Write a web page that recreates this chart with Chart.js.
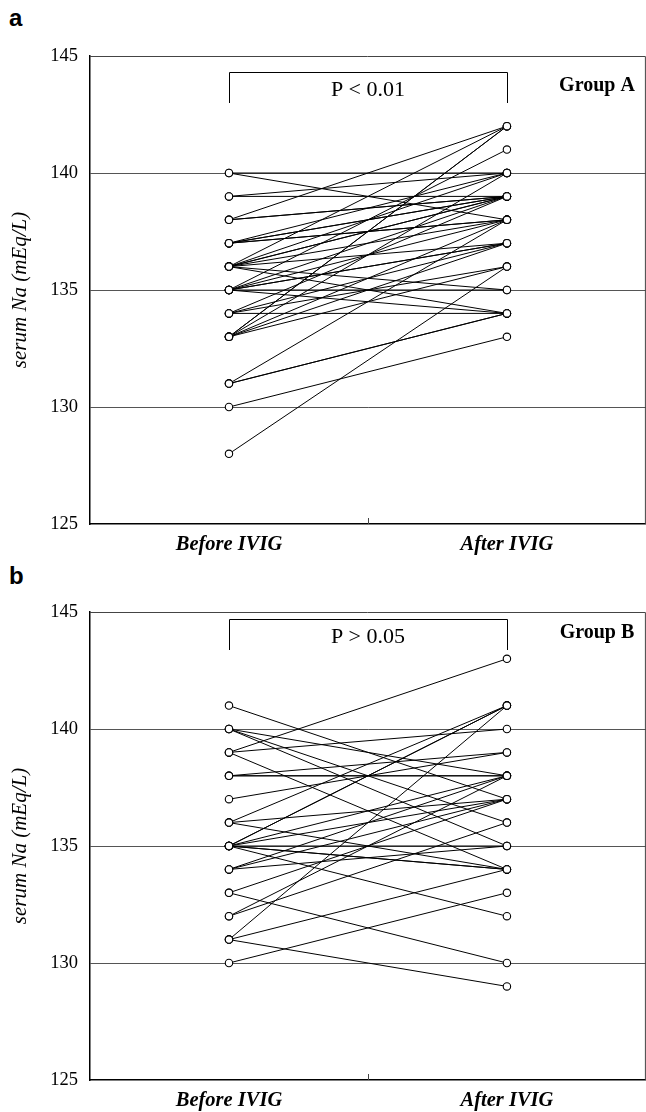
<!DOCTYPE html>
<html>
<head>
<meta charset="utf-8">
<script src="https://cdn.jsdelivr.net/npm/chart.js@4.4.1/dist/chart.umd.min.js"></script>
<style>
    body { margin: 0; background: #fff; width: 646px; height: 1112px; position: relative; overflow: hidden; }
    .panel-label { position: absolute; left: 9px; font: bold 24px "Liberation Sans", Arial, sans-serif; color: #000; }
    /* canvas a bit wider than the page: chart.js keeps ~5px on the right */
    .wrap { position: absolute; left: 0; width: 651px; }
</style>
</head>
<body>
<div class="panel-label" style="top: 4px;">a</div>
<div class="wrap" style="top: 0; height: 560px;"><canvas id="chartA"></canvas></div>
<div class="panel-label" style="top: 562px;">b</div>
<div class="wrap" style="top: 560px; height: 552px;"><canvas id="chartB"></canvas></div>
<script>
const categories = ['Before IVIG', 'After IVIG'];
const yTicks = [125, 130, 135, 140, 145];

// Group A: each index is one patient (before -> after)
const groupABefore = [140, 140, 139, 139, 138, 138, 138, 137, 137, 137, 137, 137,
    136, 136, 136, 136, 136, 136, 136, 136, 135, 135, 135, 135, 135, 135, 135,
    134, 134, 134, 134, 133, 133, 133, 133, 133, 133, 131, 131, 131, 130, 128];
const groupAAfter = [140, 138, 140, 139, 142, 139, 139, 139, 140, 139, 138, 138,
    142, 140, 139, 139, 138, 137, 135, 134, 141, 139, 138, 137, 137, 135, 134,
    139, 137, 136, 134, 142, 142, 140, 138, 137, 136, 138, 134, 134, 133, 136];

// Group B
const groupBBefore = [141, 140, 140, 140, 139, 139, 139, 138, 138, 138, 137,
    136, 136, 136, 135, 135, 135, 135, 135, 135, 135, 135, 134, 134, 134,
    133, 133, 132, 132, 131, 131, 131, 130];
const groupBAfter = [137, 138, 136, 135, 143, 140, 134, 138, 138, 139, 139,
    141, 137, 134, 141, 141, 138, 137, 135, 134, 134, 132, 138, 137, 135,
    137, 130, 138, 136, 141, 134, 129, 133];

const serif = '"Liberation Serif", "Times New Roman", serif';

const panelNotes = {
    id: 'panelNotes',
    afterDraw(chart, args, opts) {
        const { ctx, chartArea: a, scales } = chart;
        const x0 = scales.x.getPixelForValue(0.5);
        const x1 = scales.x.getPixelForValue(1.5);
        const xm = scales.x.getPixelForValue(1);
        ctx.save();
        // frame top + right
        ctx.strokeStyle = '#444';
        ctx.lineWidth = 1;
        ctx.beginPath();
        ctx.moveTo(a.left, a.top + 0.5);
        ctx.lineTo(a.right - 0.5, a.top + 0.5);
        ctx.lineTo(a.right - 0.5, a.bottom);
        ctx.stroke();
        // middle tick on x axis
        ctx.beginPath();
        ctx.moveTo(Math.round(xm) + 0.5, a.bottom);
        ctx.lineTo(Math.round(xm) + 0.5, a.bottom - 6);
        ctx.stroke();
        // bracket
        ctx.strokeStyle = '#000';
        const bt = a.top + opts.bracketTop;
        ctx.beginPath();
        ctx.moveTo(Math.round(x0) + 0.5, bt + 31);
        ctx.lineTo(Math.round(x0) + 0.5, bt + 0.5);
        ctx.lineTo(Math.round(x1) + 0.5, bt + 0.5);
        ctx.lineTo(Math.round(x1) + 0.5, bt + 31);
        ctx.stroke();
        ctx.fillStyle = '#000';
        ctx.textAlign = 'center';
        ctx.textBaseline = 'middle';
        ctx.font = '22px ' + serif;
        ctx.fillText(opts.pText, xm, bt + 18);
        ctx.font = 'bold 20px ' + serif;
        ctx.fillText(opts.group, 597, bt + 14);
        ctx.restore();
    }
};

function makeChart(id, before, after, notes, xAxisHeight) {
    const datasets = before.map((b, i) => ({
        data: [{ x: 0.5, y: b }, { x: 1.5, y: after[i] }],
        borderColor: '#000',
        borderWidth: 1,
        pointRadius: 3.7,
        pointBorderWidth: 1.1,
        pointBackgroundColor: '#fff',
        pointBorderColor: '#000',
        tension: 0
    }));

    return new Chart(document.getElementById(id), {
        type: 'line',
        data: { datasets },
        options: {
            responsive: true,
            maintainAspectRatio: false,
            animation: false,
            layout: { padding: { top: notes.top, right: 1, left: 0, bottom: 0 } },
            plugins: {
                legend: { display: false },
                tooltip: { enabled: false },
                panelNotes: notes
            },
            scales: {
                x: {
                    type: 'linear',
                    min: 0,
                    max: 2,
                    afterBuildTicks: (s) => { s.ticks = [{ value: 0.5 }, { value: 1.5 }]; },
                    afterFit: (s) => {
                        s.height = xAxisHeight;
                        s.paddingLeft = 0;
                        s.paddingRight = 0;
                    },
                    grid: { display: false, drawTicks: false },
                    border: { color: '#000', width: 1.5 },
                    ticks: {
                        padding: 8,
                        color: '#000',
                        maxRotation: 0,
                        font: { family: serif, size: 20.5, style: 'italic', weight: 'bold' },
                        callback: (v) => categories[v < 1 ? 0 : 1]
                    }
                },
                y: {
                    min: 125,
                    max: 145,
                    afterBuildTicks: (s) => { s.ticks = yTicks.map(v => ({ value: v })); },
                    afterFit: (s) => { s.width = 90; },
                    grid: {
                        drawTicks: false,
                        color: (c) => (c.tick.value === 125 || c.tick.value === 145) ? 'rgba(0,0,0,0)' : '#555'
                    },
                    border: { color: '#000', width: 1.5 },
                    title: {
                        display: true,
                        text: 'serum Na (mEq/L)',
                        color: '#000',
                        padding: { top: 8, bottom: 0 },
                        font: { family: serif, size: 21, style: 'italic' }
                    },
                    ticks: {
                        padding: 12,
                        color: '#000',
                        font: { family: serif, size: 18.5 }
                    }
                }
            }
        },
        plugins: [panelNotes]
    });
}

makeChart('chartA', groupABefore, groupAAfter,
    { top: 56, bracketTop: 16, pText: 'P < 0.01', group: 'Group A' }, 36);
makeChart('chartB', groupBBefore, groupBAfter,
    { top: 52, bracketTop: 7, pText: 'P > 0.05', group: 'Group B' }, 32);
</script>
</body>
</html>
